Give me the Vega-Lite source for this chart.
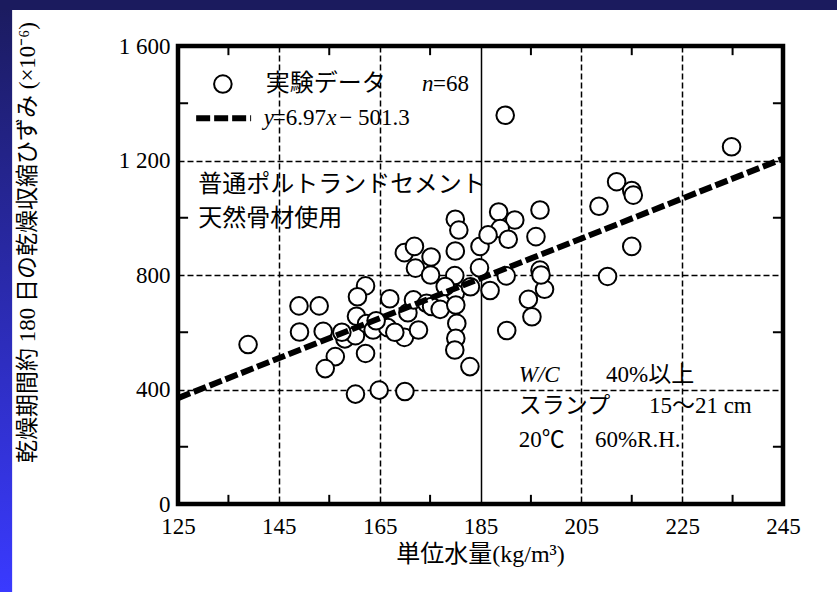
{
  "$schema": "https://vega.github.io/schema/vega-lite/v6.json",
  "autosize": {"type": "none"},
  "width": 605,
  "height": 458,
  "padding": {"left": 178, "top": 46, "right": 54, "bottom": 88},
  "background": "white",
  "config": {"view": {"stroke": null}},
  "datasets": {
    "pts": [
      {"w":138.9,"s":557},{"w":149.0,"s":692},{"w":153.0,"s":692},{"w":149.1,"s":601},{"w":153.8,"s":603},
      {"w":156.2,"s":515},{"w":154.2,"s":473},{"w":158.1,"s":577},{"w":160.2,"s":588},{"w":160.2,"s":384},
      {"w":164.9,"s":398},{"w":170.0,"s":393},{"w":162.2,"s":526},{"w":162.2,"s":762},{"w":160.6,"s":724},
      {"w":160.4,"s":656},{"w":162.4,"s":630},{"w":163.7,"s":608},{"w":167.0,"s":717},{"w":166.6,"s":616},
      {"w":169.9,"s":582},{"w":170.6,"s":668},{"w":171.7,"s":713},{"w":172.7,"s":608},{"w":169.9,"s":878},
      {"w":171.9,"s":900},{"w":172.1,"s":824},{"w":175.2,"s":863},{"w":175.1,"s":800},{"w":174.3,"s":701},
      {"w":175.3,"s":690},{"w":177.0,"s":680},{"w":180.0,"s":995},{"w":180.7,"s":957},{"w":180.0,"s":884},
      {"w":179.9,"s":798},{"w":180.0,"s":736},{"w":180.1,"s":695},{"w":180.3,"s":631},{"w":180.1,"s":579},
      {"w":179.9,"s":538},{"w":182.9,"s":480},{"w":183.0,"s":759},{"w":184.9,"s":900},{"w":184.8,"s":825},
      {"w":186.9,"s":746},{"w":188.6,"s":1020},{"w":191.8,"s":992},{"w":196.8,"s":1027},{"w":188.9,"s":962},
      {"w":190.5,"s":925},{"w":196.0,"s":934},{"w":196.8,"s":817},{"w":197.7,"s":750},{"w":194.5,"s":715},
      {"w":195.2,"s":654},{"w":190.2,"s":606},{"w":190.1,"s":797},{"w":189.9,"s":1358},{"w":234.8,"s":1248},
      {"w":212.0,"s":1126},{"w":215.0,"s":1095},{"w":215.3,"s":1079},{"w":208.5,"s":1040},{"w":215.0,"s":900},
      {"w":210.2,"s":795},{"w":157.5,"s":600},{"w":164.3,"s":640},{"w":168.0,"s":600},{"w":178.0,"s":760},
      {"w":186.5,"s":940},{"w":197.0,"s":800}
    ],
    "fit": [{"w":125,"s":369.9},{"w":245,"s":1206.4}],
    "one": [{}]
  },
  "layer": [
    {
      "data": {"name": "pts"},
      "mark": {"type": "point", "shape": "circle", "filled": false, "fill": "white", "fillOpacity": 1, "stroke": "black", "strokeWidth": 2, "opacity": 1, "size": 310, "clip": false},
      "encoding": {
        "x": {
          "field": "w", "type": "quantitative",
          "scale": {"domain": [125, 245], "nice": false, "zero": false},
          "axis": {
            "orient": "bottom",
            "values": [125,145,165,185,205,225,245],
            "format": "d",
            "labelFont": "Liberation Serif", "labelFontSize": 23, "labelColor": "black", "labelPadding": 11,
            "labelFlush": false, "labelOverlap": false,
            "domain": false, "ticks": false,
            "grid": true, "gridColor": "black", "gridWidth": 1.5,
            "gridDash": {"condition": {"test": "datum.value === 185", "value": []}, "value": [6, 3]},
            "gridOpacity": {"condition": {"test": "indexof([145,165,185,205,225], datum.value) >= 0", "value": 1}, "value": 0},
            "title": "単位水量(kg/m³)",
            "titleFont": "Liberation Serif, Noto Sans CJK JP", "titleFontSize": 24, "titleFontWeight": "normal", "titleColor": "black",
            "titleX": 302, "titleY": 50, "titleAlign": "center", "titleBaseline": "middle", "titleAnchor": null
          }
        },
        "y": {
          "field": "s", "type": "quantitative",
          "scale": {"domain": [0, 1600], "nice": false},
          "axis": {
            "orient": "left",
            "values": [0,400,800,1200,1600],
            "labelExpr": "replace(format(datum.value, ',d'), ',', ' ')",
            "labelFont": "Liberation Serif", "labelFontSize": 23, "labelColor": "black", "labelPadding": 8,
            "labelFlush": false, "labelOverlap": false,
            "domain": false, "ticks": false,
            "grid": true, "gridColor": "black", "gridWidth": 1.5, "gridDash": [6, 3],
            "gridOpacity": {"condition": {"test": "indexof([400,800,1200], datum.value) >= 0", "value": 1}, "value": 0},
            "title": "乾燥期間約 180 日の乾燥収縮ひずみ (×10⁻⁶)",
            "titleFont": "Liberation Serif, Noto Sans CJK JP", "titleFontSize": 23, "titleFontWeight": "normal", "titleColor": "black",
            "titleAngle": -90, "titleX": -151, "titleY": 196, "titleAlign": "center", "titleBaseline": "middle", "titleAnchor": null
          }
        }
      }
    },
    {
      "data": {"name": "one"},
      "mark": {"type": "rect", "clip": false, "color": {"gradient": "linear", "x1": 0, "y1": 0, "x2": 0, "y2": 1, "stops": [{"offset": 0, "color": "#1b1b5e"}, {"offset": 1, "color": "#3a3aff"}]}},
      "encoding": {"x": {"datum": 88, "type": "quantitative"}, "x2": {"datum": 92.1}, "y": {"datum": 1762, "type": "quantitative"}, "y2": {"datum": -309}}
    },
    {
      "data": {"name": "one"},
      "mark": {"type": "rect", "clip": false, "color": "#1b1b5e"},
      "encoding": {"x": {"datum": 88, "type": "quantitative"}, "x2": {"datum": 258}, "y": {"datum": 1762, "type": "quantitative"}, "y2": {"datum": 1726}}
    },
    {
      "data": {"name": "one"},
      "mark": {"type": "rect", "clip": false, "fill": null, "fillOpacity": 0, "stroke": "black", "strokeWidth": 4.5},
      "encoding": {"x": {"datum": 125, "type": "quantitative"}, "x2": {"datum": 245}, "y": {"datum": 1600, "type": "quantitative"}, "y2": {"datum": 0}}
    },
    {"data": {"name": "one"}, "mark": {"type": "rule", "color": "black", "strokeWidth": 2, "clip": false},
     "encoding": {"x": {"datum": 135, "type": "quantitative"}, "y": {"datum": 0, "type": "quantitative"}, "y2": {"datum": 32}}},
    {"data": {"name": "one"}, "mark": {"type": "rule", "color": "black", "strokeWidth": 2, "clip": false},
     "encoding": {"x": {"datum": 155, "type": "quantitative"}, "y": {"datum": 0, "type": "quantitative"}, "y2": {"datum": 32}}},
    {"data": {"name": "one"}, "mark": {"type": "rule", "color": "black", "strokeWidth": 2, "clip": false},
     "encoding": {"x": {"datum": 175, "type": "quantitative"}, "y": {"datum": 0, "type": "quantitative"}, "y2": {"datum": 32}}},
    {"data": {"name": "one"}, "mark": {"type": "rule", "color": "black", "strokeWidth": 2, "clip": false},
     "encoding": {"x": {"datum": 195, "type": "quantitative"}, "y": {"datum": 0, "type": "quantitative"}, "y2": {"datum": 32}}},
    {"data": {"name": "one"}, "mark": {"type": "rule", "color": "black", "strokeWidth": 2, "clip": false},
     "encoding": {"x": {"datum": 215, "type": "quantitative"}, "y": {"datum": 0, "type": "quantitative"}, "y2": {"datum": 32}}},
    {"data": {"name": "one"}, "mark": {"type": "rule", "color": "black", "strokeWidth": 2, "clip": false},
     "encoding": {"x": {"datum": 235, "type": "quantitative"}, "y": {"datum": 0, "type": "quantitative"}, "y2": {"datum": 32}}},
    {"data": {"name": "one"}, "mark": {"type": "rule", "color": "black", "strokeWidth": 2, "clip": false},
     "encoding": {"x": {"datum": 135, "type": "quantitative"}, "y": {"datum": 1600, "type": "quantitative"}, "y2": {"datum": 1568}}},
    {"data": {"name": "one"}, "mark": {"type": "rule", "color": "black", "strokeWidth": 2, "clip": false},
     "encoding": {"x": {"datum": 155, "type": "quantitative"}, "y": {"datum": 1600, "type": "quantitative"}, "y2": {"datum": 1568}}},
    {"data": {"name": "one"}, "mark": {"type": "rule", "color": "black", "strokeWidth": 2, "clip": false},
     "encoding": {"x": {"datum": 175, "type": "quantitative"}, "y": {"datum": 1600, "type": "quantitative"}, "y2": {"datum": 1568}}},
    {"data": {"name": "one"}, "mark": {"type": "rule", "color": "black", "strokeWidth": 2, "clip": false},
     "encoding": {"x": {"datum": 195, "type": "quantitative"}, "y": {"datum": 1600, "type": "quantitative"}, "y2": {"datum": 1568}}},
    {"data": {"name": "one"}, "mark": {"type": "rule", "color": "black", "strokeWidth": 2, "clip": false},
     "encoding": {"x": {"datum": 215, "type": "quantitative"}, "y": {"datum": 1600, "type": "quantitative"}, "y2": {"datum": 1568}}},
    {"data": {"name": "one"}, "mark": {"type": "rule", "color": "black", "strokeWidth": 2, "clip": false},
     "encoding": {"x": {"datum": 235, "type": "quantitative"}, "y": {"datum": 1600, "type": "quantitative"}, "y2": {"datum": 1568}}},
    {"data": {"name": "one"}, "mark": {"type": "rule", "color": "black", "strokeWidth": 2, "clip": false},
     "encoding": {"y": {"datum": 200, "type": "quantitative"}, "x": {"datum": 125, "type": "quantitative"}, "x2": {"datum": 127}}},
    {"data": {"name": "one"}, "mark": {"type": "rule", "color": "black", "strokeWidth": 2, "clip": false},
     "encoding": {"y": {"datum": 600, "type": "quantitative"}, "x": {"datum": 125, "type": "quantitative"}, "x2": {"datum": 127}}},
    {"data": {"name": "one"}, "mark": {"type": "rule", "color": "black", "strokeWidth": 2, "clip": false},
     "encoding": {"y": {"datum": 1000, "type": "quantitative"}, "x": {"datum": 125, "type": "quantitative"}, "x2": {"datum": 127}}},
    {"data": {"name": "one"}, "mark": {"type": "rule", "color": "black", "strokeWidth": 2, "clip": false},
     "encoding": {"y": {"datum": 1400, "type": "quantitative"}, "x": {"datum": 125, "type": "quantitative"}, "x2": {"datum": 127}}},
    {"data": {"name": "one"}, "mark": {"type": "rule", "color": "black", "strokeWidth": 2, "clip": false},
     "encoding": {"y": {"datum": 200, "type": "quantitative"}, "x": {"datum": 245, "type": "quantitative"}, "x2": {"datum": 243}}},
    {"data": {"name": "one"}, "mark": {"type": "rule", "color": "black", "strokeWidth": 2, "clip": false},
     "encoding": {"y": {"datum": 600, "type": "quantitative"}, "x": {"datum": 245, "type": "quantitative"}, "x2": {"datum": 243}}},
    {"data": {"name": "one"}, "mark": {"type": "rule", "color": "black", "strokeWidth": 2, "clip": false},
     "encoding": {"y": {"datum": 1000, "type": "quantitative"}, "x": {"datum": 245, "type": "quantitative"}, "x2": {"datum": 243}}},
    {"data": {"name": "one"}, "mark": {"type": "rule", "color": "black", "strokeWidth": 2, "clip": false},
     "encoding": {"y": {"datum": 1400, "type": "quantitative"}, "x": {"datum": 245, "type": "quantitative"}, "x2": {"datum": 243}}},
    {
      "data": {"name": "fit"},
      "mark": {"type": "line", "color": "black", "strokeWidth": 6, "strokeDash": [13, 4], "clip": false},
      "encoding": {"x": {"field": "w", "type": "quantitative"}, "y": {"field": "s", "type": "quantitative"}}
    },
    {
      "data": {"name": "one"},
      "mark": {"type": "point", "shape": "circle", "filled": false, "fill": "white", "fillOpacity": 1, "stroke": "black", "strokeWidth": 2, "opacity": 1, "size": 310, "clip": false},
      "encoding": {"x": {"datum": 133.9, "type": "quantitative"}, "y": {"datum": 1467, "type": "quantitative"}}
    },
    {
      "data": {"name": "one"},
      "mark": {"type": "rule", "color": "black", "strokeWidth": 6, "strokeDash": [14, 4], "clip": false},
      "encoding": {"x": {"datum": 128.6, "type": "quantitative"}, "x2": {"datum": 139.5}, "y": {"datum": 1348, "type": "quantitative"}}
    },
    {
      "data": {"name": "one"},
      "mark": {"type": "text", "text": "実験データ", "align": "left", "baseline": "middle", "font": "Noto Sans CJK JP", "fontSize": 24, "color": "black", "clip": false},
      "encoding": {"x": {"datum": 142.4, "type": "quantitative"}, "y": {"datum": 1467, "type": "quantitative"}}
    },
    {
      "data": {"name": "one"},
      "mark": {"type": "text", "text": "n", "align": "left", "baseline": "middle", "font": "Liberation Serif", "fontStyle": "italic", "fontSize": 23, "color": "black", "clip": false},
      "encoding": {"x": {"datum": 173.4, "type": "quantitative"}, "y": {"datum": 1467, "type": "quantitative"}}
    },
    {
      "data": {"name": "one"},
      "mark": {"type": "text", "text": "=68", "align": "left", "baseline": "middle", "font": "Liberation Serif", "fontSize": 23, "color": "black", "clip": false},
      "encoding": {"x": {"datum": 175.6, "type": "quantitative"}, "y": {"datum": 1467, "type": "quantitative"}}
    },
    {
      "data": {"name": "one"},
      "mark": {"type": "text", "text": "y", "align": "left", "baseline": "middle", "font": "Liberation Serif", "fontStyle": "italic", "fontSize": 23, "color": "black", "clip": false},
      "encoding": {"x": {"datum": 142.0, "type": "quantitative"}, "y": {"datum": 1348, "type": "quantitative"}}
    },
    {
      "data": {"name": "one"},
      "mark": {"type": "text", "text": "=6.97", "align": "left", "baseline": "middle", "font": "Liberation Serif", "fontSize": 23, "color": "black", "clip": false},
      "encoding": {"x": {"datum": 143.8, "type": "quantitative"}, "y": {"datum": 1348, "type": "quantitative"}}
    },
    {
      "data": {"name": "one"},
      "mark": {"type": "text", "text": "x", "align": "left", "baseline": "middle", "font": "Liberation Serif", "fontStyle": "italic", "fontSize": 23, "color": "black", "clip": false},
      "encoding": {"x": {"datum": 154.4, "type": "quantitative"}, "y": {"datum": 1348, "type": "quantitative"}}
    },
    {
      "data": {"name": "one"},
      "mark": {"type": "text", "text": "− 501.3", "align": "left", "baseline": "middle", "font": "Liberation Serif", "fontSize": 23, "color": "black", "clip": false},
      "encoding": {"x": {"datum": 157.0, "type": "quantitative"}, "y": {"datum": 1348, "type": "quantitative"}}
    },
    {
      "data": {"name": "one"},
      "mark": {"type": "text", "text": "普通ポルトランドセメント", "align": "left", "baseline": "middle", "font": "Noto Sans CJK JP", "fontSize": 24, "color": "black", "clip": false},
      "encoding": {"x": {"datum": 129.0, "type": "quantitative"}, "y": {"datum": 1114, "type": "quantitative"}}
    },
    {
      "data": {"name": "one"},
      "mark": {"type": "text", "text": "天然骨材使用", "align": "left", "baseline": "middle", "font": "Noto Sans CJK JP", "fontSize": 24, "color": "black", "clip": false},
      "encoding": {"x": {"datum": 129.0, "type": "quantitative"}, "y": {"datum": 996, "type": "quantitative"}}
    },
    {
      "data": {"name": "one"},
      "mark": {"type": "text", "text": "W/C", "align": "left", "baseline": "middle", "font": "Liberation Serif", "fontStyle": "italic", "fontSize": 23, "color": "black", "clip": false},
      "encoding": {"x": {"datum": 192.6, "type": "quantitative"}, "y": {"datum": 451, "type": "quantitative"}}
    },
    {
      "data": {"name": "one"},
      "mark": {"type": "text", "text": "40%以上", "align": "left", "baseline": "middle", "font": "Liberation Serif, Noto Sans CJK JP", "fontSize": 23, "color": "black", "clip": false},
      "encoding": {"x": {"datum": 209.9, "type": "quantitative"}, "y": {"datum": 451, "type": "quantitative"}}
    },
    {
      "data": {"name": "one"},
      "mark": {"type": "text", "text": "スランプ", "align": "left", "baseline": "middle", "font": "Noto Sans CJK JP", "fontSize": 23, "color": "black", "clip": false},
      "encoding": {"x": {"datum": 192.6, "type": "quantitative"}, "y": {"datum": 342, "type": "quantitative"}}
    },
    {
      "data": {"name": "one"},
      "mark": {"type": "text", "text": "15～21 cm", "align": "left", "baseline": "middle", "font": "Liberation Serif, Noto Sans CJK JP", "fontSize": 23, "color": "black", "clip": false},
      "encoding": {"x": {"datum": 218.4, "type": "quantitative"}, "y": {"datum": 342, "type": "quantitative"}}
    },
    {
      "data": {"name": "one"},
      "mark": {"type": "text", "text": "20℃", "align": "left", "baseline": "middle", "font": "Liberation Serif, Noto Sans CJK JP", "fontSize": 23, "color": "black", "clip": false},
      "encoding": {"x": {"datum": 192.6, "type": "quantitative"}, "y": {"datum": 224, "type": "quantitative"}}
    },
    {
      "data": {"name": "one"},
      "mark": {"type": "text", "text": "60%R.H.", "align": "left", "baseline": "middle", "font": "Liberation Serif", "fontSize": 23, "color": "black", "clip": false},
      "encoding": {"x": {"datum": 207.7, "type": "quantitative"}, "y": {"datum": 224, "type": "quantitative"}}
    }
  ]
}
